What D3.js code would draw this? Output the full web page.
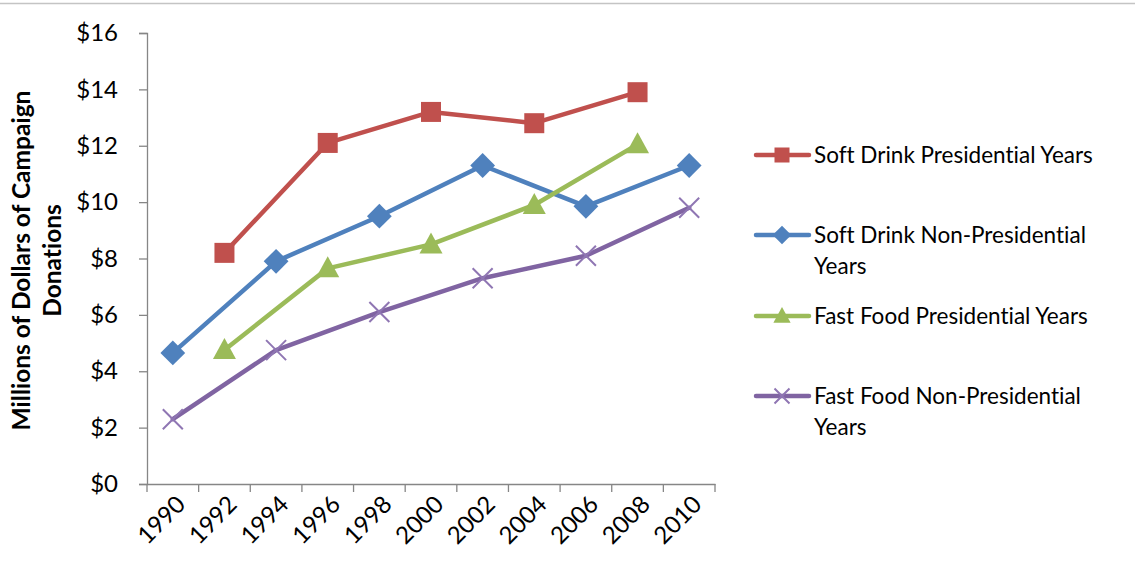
<!DOCTYPE html>
<html>
<head>
<meta charset="utf-8">
<script src="https://cdn.jsdelivr.net/npm/d3@7"></script>
<style>
  html, body { margin: 0; padding: 0; background: #fff; }
  svg { display: block; }
  text { font-family: Lato, "Open Sans", sans-serif; fill: #000; font-variant-ligatures: none; }
</style>
</head>
<body>
<svg id="chart" width="1135" height="575"></svg>
<script>
// Campaign donations, millions of dollars
const years = ["1990","1992","1994","1996","1998","2000","2002","2004","2006","2008","2010"];
const yTicks = [0, 2, 4, 6, 8, 10, 12, 14, 16];

const softDrinkPresYears = ["1992","1996","2000","2004","2008"];
const softDrinkPres      = [8.2, 12.1, 13.2, 12.8, 13.9];

const softDrinkNonPresYears = ["1990","1994","1998","2002","2006","2010"];
const softDrinkNonPres      = [4.65, 7.9, 9.5, 11.3, 9.85, 11.3];

const fastFoodPresYears = ["1992","1996","2000","2004","2008"];
const fastFoodPres      = [4.75, 7.65, 8.5, 9.9, 12.05];

const fastFoodNonPresYears = ["1990","1994","1998","2002","2006","2010"];
const fastFoodNonPres      = [2.3, 4.75, 6.1, 7.3, 8.1, 9.8];

const seriesNames = [
  ["Soft Drink Presidential Years"],
  ["Soft Drink Non-Presidential", "Years"],
  ["Fast Food Presidential Years"],
  ["Fast Food Non-Presidential", "Years"]
];

const series = [
  { name: seriesNames[0], years: softDrinkPresYears,    values: softDrinkPres,    color: "#C0504D", marker: "square" },
  { name: seriesNames[1], years: softDrinkNonPresYears, values: softDrinkNonPres, color: "#4F81BD", marker: "diamond" },
  { name: seriesNames[2], years: fastFoodPresYears,     values: fastFoodPres,     color: "#9BBB59", marker: "triangle" },
  { name: seriesNames[3], years: fastFoodNonPresYears,  values: fastFoodNonPres,  color: "#8064A2", marker: "cross" }
];

const svg = d3.select("#chart");
const axisColor = "#868686";

const plot = { left: 147, right: 715, top: 33, bottom: 484 };

const x = d3.scaleBand().domain(years).range([plot.left, plot.right]).paddingInner(0).paddingOuter(0);
const y = d3.scaleLinear().domain([0, 16]).range([plot.bottom, plot.top]);

// thin rule along the top edge
svg.append("line")
  .attr("x1", 0).attr("x2", 1135).attr("y1", 3.5).attr("y2", 3.5)
  .attr("stroke", "#c4c4c4").attr("stroke-width", 1.5);

// y axis
const yAxis = svg.append("g")
  .attr("transform", `translate(${plot.left},0)`)
  .call(d3.axisLeft(y).tickValues(yTicks).tickFormat(d => "$" + d).tickSize(8).tickPadding(21));
yAxis.select(".domain").attr("stroke", axisColor).attr("stroke-width", 1.3);
yAxis.selectAll(".tick line").attr("stroke", axisColor).attr("stroke-width", 1.3);
yAxis.selectAll(".tick text")
  .style("font-family", "Lato, sans-serif")
  .attr("font-size", 24).attr("fill", "#000");

// x axis: labels at category centres, tick marks at category edges
const xAxis = svg.append("g")
  .attr("transform", `translate(0,${plot.bottom})`)
  .call(d3.axisBottom(x).tickSize(0).tickPadding(0));
xAxis.select(".domain").attr("stroke", axisColor).attr("stroke-width", 1.3);
xAxis.selectAll(".tick text")
  .style("font-family", "Lato, sans-serif")
  .attr("font-size", 24).attr("fill", "#000")
  .attr("text-anchor", "end")
  .attr("dy", 0)
  .attr("transform", "translate(14,22) rotate(-45)");

const edges = years.map(d => x(d)).concat([x.range()[1]]);
xAxis.selectAll(".edge")
  .data(edges)
  .join("line")
  .attr("class", "edge")
  .attr("x1", d => d).attr("x2", d => d)
  .attr("y1", 0).attr("y2", 8)
  .attr("stroke", axisColor).attr("stroke-width", 1.3);

// y axis title
const titleG = svg.append("g")
  .attr("transform", `translate(36,${(plot.top + plot.bottom) / 2 + 2}) rotate(-90)`);
titleG.append("text")
  .attr("text-anchor", "middle")
  .attr("y", -6)
  .attr("font-size", 24.5).attr("font-weight", "bold")
  .text("Millions of Dollars of Campaign");
titleG.append("text")
  .attr("text-anchor", "middle")
  .attr("y", 25)
  .attr("font-size", 24.5).attr("font-weight", "bold")
  .text("Donations");

// marker drawing
function drawMarker(g, type, color, size) {
  if (type === "square") {
    g.append("rect")
      .attr("x", -size / 2).attr("y", -size / 2)
      .attr("width", size).attr("height", size)
      .attr("fill", color);
  } else if (type === "diamond") {
    const r = size * 0.62;
    g.append("path")
      .attr("d", `M0,${-r}L${r},0L0,${r}L${-r},0Z`)
      .attr("fill", color);
  } else if (type === "triangle") {
    const w = size * 1.15, h = size * 1.0;
    g.append("path")
      .attr("d", `M0,${-h * 0.6}L${w / 2},${h * 0.45}L${-w / 2},${h * 0.45}Z`)
      .attr("fill", color);
  } else if (type === "cross") {
    const r = size * 0.5;
    g.append("path")
      .attr("d", `M${-r},${-r}L${r},${r}M${r},${-r}L${-r},${r}`)
      .attr("stroke", "#8F76B3").attr("stroke-width", 2).attr("fill", "none");
  }
}

const line = d3.line()
  .x(d => x(d.year) + x.bandwidth() / 2)
  .y(d => y(d.value));

series.forEach(s => {
  const pts = s.years.map((yr, i) => ({ year: yr, value: s.values[i] }));
  svg.append("path")
    .datum(pts)
    .attr("d", line)
    .attr("fill", "none")
    .attr("stroke", s.color)
    .attr("stroke-width", 4.5)
    .attr("stroke-linejoin", "round")
    .attr("stroke-linecap", "round");
  pts.forEach(p => {
    const g = svg.append("g")
      .attr("transform", `translate(${x(p.year) + x.bandwidth() / 2},${y(p.value)})`);
    drawMarker(g, s.marker, s.color, 20);
  });
});

// legend
const legendRows = [155, 235, 316, 396];
series.forEach((s, i) => {
  const g = svg.append("g").attr("transform", `translate(0,${legendRows[i]})`);
  g.append("line")
    .attr("x1", 756).attr("x2", 809).attr("y1", 0).attr("y2", 0)
    .attr("stroke", s.color).attr("stroke-width", 4.5).attr("stroke-linecap", "round");
  const mg = g.append("g").attr("transform", "translate(782,0)");
  drawMarker(mg, s.marker, s.color, 15);
  s.name.forEach((ln, j) => {
    g.append("text")
      .attr("x", 814).attr("y", j * 31)
      .attr("dy", "0.36em")
      .attr("font-size", 22.5)
      .text(ln);
  });
});
</script>
</body>
</html>
